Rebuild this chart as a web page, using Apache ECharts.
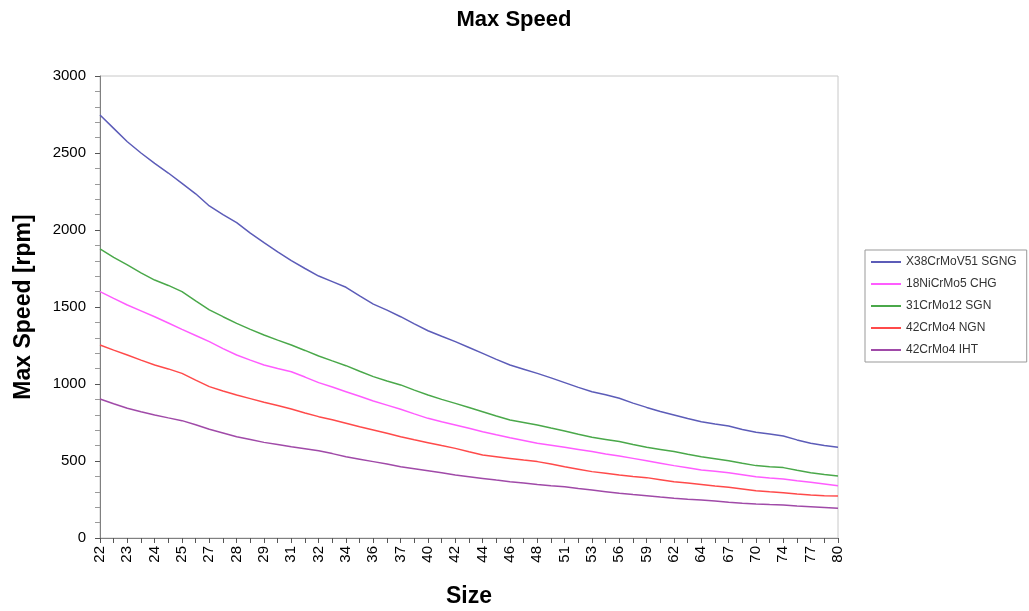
<!DOCTYPE html>
<html>
<head>
<meta charset="utf-8">
<script src="https://cdn.jsdelivr.net/npm/echarts@6/dist/echarts.min.js"></script>
<style>html,body{margin:0;padding:0;background:#fff;}#c{width:1029px;height:611px;}</style>
</head>
<body>
<div id="c"></div>
<script>
// Tick labels shown on the size axis (every other category carries a label)
var sizeLabels = ['22','23','24','25','27','28','29','31','32','34','36','37','40','42','44','46','48','51','53','56','59','62','64','67','70','74','77','80'];
var seriesNames = ['X38CrMoV51 SGNG','18NiCrMo5 CHG','31CrMo12 SGN','42CrMo4 NGN','42CrMo4 IHT'];

var x38 = [2747,2660,2573,2500,2433,2370,2303,2235,2156,2100,2048,1980,1918,1858,1801,1750,1701,1665,1628,1572,1519,1480,1437,1390,1346,1310,1275,1237,1199,1160,1123,1096,1069,1040,1009,978,950,930,907,876,848,822,799,776,755,740,727,705,686,675,662,637,615,600,589];
var ni18 = [1600,1556,1513,1475,1437,1396,1355,1315,1275,1230,1188,1155,1123,1100,1080,1045,1009,980,950,920,890,863,836,806,777,755,734,712,690,670,651,633,615,602,589,575,561,546,532,517,502,486,470,456,442,433,424,411,398,390,383,372,362,351,340];
var cr31 = [1877,1822,1773,1722,1675,1640,1600,1540,1481,1437,1394,1355,1318,1285,1253,1218,1182,1150,1119,1083,1048,1020,994,960,929,900,874,847,820,792,766,750,734,714,695,674,654,640,626,607,589,575,561,544,528,515,502,485,470,463,457,440,424,413,403];
var ngn42 = [1253,1220,1188,1155,1123,1098,1069,1025,983,955,929,905,881,860,838,812,788,768,745,722,701,680,658,638,619,600,582,560,539,528,517,506,496,480,463,447,431,420,409,400,392,379,366,357,348,338,329,318,307,300,294,286,279,275,273];
var iht42 = [903,872,842,820,799,780,762,735,706,682,658,640,621,607,593,580,567,548,528,512,496,480,463,450,437,423,409,398,387,376,366,357,348,340,333,322,312,301,290,282,275,266,258,252,247,240,232,226,221,217,214,208,203,198,193];

var colors = ['#5c5cb8','#ff5cff','#4aa84a','#ff4a4a','#a04aa8'];

// categories: labelled sizes interleaved with unlabelled intermediate sizes
var categories = [];
for (var i = 0; i < sizeLabels.length; i++) {
  categories.push(sizeLabels[i]);
  if (i < sizeLabels.length - 1) categories.push('');
}

var values = [x38, ni18, cr31, ngn42, iht42];
var font = 'Liberation Sans, Arial, sans-serif';

var chart = echarts.init(document.getElementById('c'));
chart.setOption({
  animation: false,
  backgroundColor: '#fff',
  textStyle: {fontFamily: font},
  title: {
    text: 'Max Speed', left: 509, top: 4, textAlign: 'center',
    textStyle: {fontSize: 22, fontWeight: 'bold', color: '#000', fontFamily: font}
  },
  legend: {
    orient: 'vertical', left: 865, top: 250,
    padding: [6, 10, 6, 6],
    itemWidth: 30, itemHeight: 2, itemGap: 10,
    icon: 'rect',
    borderColor: '#999', borderWidth: 1,
    textStyle: {fontSize: 12, color: '#333', fontFamily: font},
    data: seriesNames
  },
  grid: {
    left: 100, right: 191, top: 76, bottom: 73,
    outerBoundsMode: 'none', containLabel: false,
    show: true, borderColor: '#c8c8c8', borderWidth: 1, backgroundColor: '#fff'
  },
  xAxis: {
    type: 'category', data: categories, boundaryGap: false,
    name: 'Size', nameLocation: 'middle', nameGap: 47,
    nameTextStyle: {fontSize: 23, fontWeight: 'bold', color: '#000', fontFamily: font},
    axisLine: {lineStyle: {color: '#808080', width: 1}},
    axisTick: {show: true, interval: 0, length: 5, lineStyle: {color: '#555'}},
    axisLabel: {interval: 1, rotate: 90, fontSize: 15, color: '#000', margin: 8, fontFamily: font},
    splitLine: {show: false}
  },
  yAxis: {
    type: 'value', min: 0, max: 3000, interval: 500,
    name: 'Max Speed [rpm]', nameLocation: 'middle', nameGap: 65,
    nameTextStyle: {fontSize: 23, fontWeight: 'bold', color: '#000', fontFamily: font},
    axisLine: {show: true, lineStyle: {color: '#808080', width: 1}},
    axisTick: {show: true, length: 5, lineStyle: {color: '#555'}},
    minorTick: {show: true, splitNumber: 5, length: 5, lineStyle: {color: '#999'}},
    axisLabel: {fontSize: 15, color: '#000', margin: 14, fontFamily: font,
      formatter: function (v) { return String(v); }},
    splitLine: {show: false}
  },
  series: values.map(function (v, k) {
    return {
      name: seriesNames[k], type: 'line', data: v,
      showSymbol: false, symbol: 'none', smooth: false,
      lineStyle: {color: colors[k], width: 1.5},
      itemStyle: {color: colors[k]}
    };
  })
});
</script>
</body>
</html>
